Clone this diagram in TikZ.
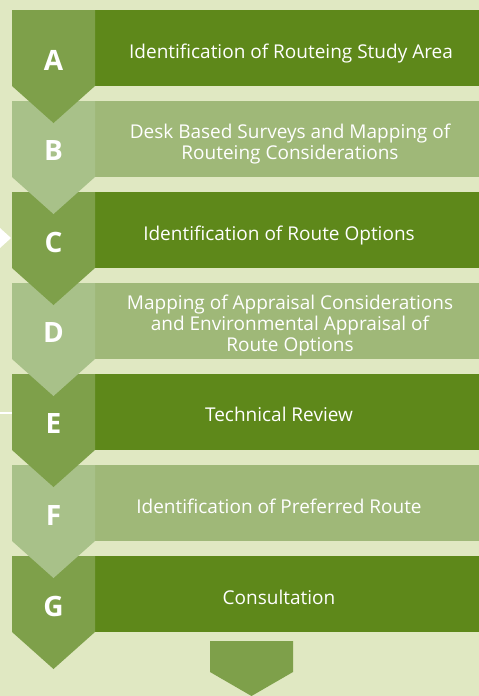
\documentclass[tikz,border=0pt]{standalone}
\usepackage{fontspec}
\setmainfont{Open Sans}
\definecolor{bg}{RGB}{224,232,194}
\definecolor{dkrect}{RGB}{94,136,26}
\definecolor{dkchev}{RGB}{126,160,74}
\definecolor{ltrect}{RGB}{159,184,120}
\definecolor{ltchev}{RGB}{168,193,137}
\tikzset{
  rowbox/.style={minimum width=384pt, minimum height=76pt, inner sep=0pt},
  dkrow/.style={rowbox, fill=dkrect},
  ltrow/.style={rowbox, fill=ltrect},
  rowtext/.style={inner sep=0pt, text=white, align=center, font=\fontsize{19}{21}\selectfont},
  oneline/.style={rowtext, anchor=base},
  letter/.style={text=white, font=\fontsize{28}{30}\selectfont\bfseries, inner sep=0pt},
}
\begin{document}
\begin{tikzpicture}[x=1pt,y=-1pt]
\fill[bg] (0,0) rectangle (479,696);
\useasboundingbox (0,0) rectangle (479,696);
% left markers
\fill[white] (0,228) -- (11,238) -- (0,248) -- cycle;
\fill[white] (0,411.5) rectangle (12,413.5);
% rows
\foreach \t/\L/\s in {10/A/dk,101/B/lt,192/C/dk,283/D/lt,374/E/dk,465/F/lt,556/G/dk}{
  \node[\s row] (r\L) at (287,\t+38) {};
}
\node[oneline] (tA) at (291,58.3) {Identification of Routeing Study Area};
\node[rowtext] (tB) at (290,144) {Desk Based Surveys and Mapping of\\Routeing Considerations};
\node[oneline] (tC) at (279,240) {Identification of Route Options};
\node[rowtext] (tD) at (290,326) {Mapping of Appraisal Considerations\\and Environmental Appraisal of\\Route Options};
\node[oneline] (tE) at (279,421.5) {Technical Review};
\node[oneline] (tF) at (279,513) {Identification of Preferred Route};
\node[oneline] (tG) at (279,604) {Consultation};
% chevrons, bottom first so upper points lie on top
\foreach \t/\L/\s in {556/G/dk,465/F/lt,374/E/dk,283/D/lt,192/C/dk,101/B/lt,10/A/dk}{
  \fill[\s chev] (12,\t) -- (95,\t) -- (95,\t+76) -- (53.5,\t+113) -- (12,\t+76) -- cycle;
  \node[letter] (l\L) at (53.5,\t+50) {\L};
}
% final arrow
\fill[dkchev] (210,641) -- (293,641) -- (293,672) -- (251.5,696) -- (210,672) -- cycle;
\end{tikzpicture}
\end{document}
